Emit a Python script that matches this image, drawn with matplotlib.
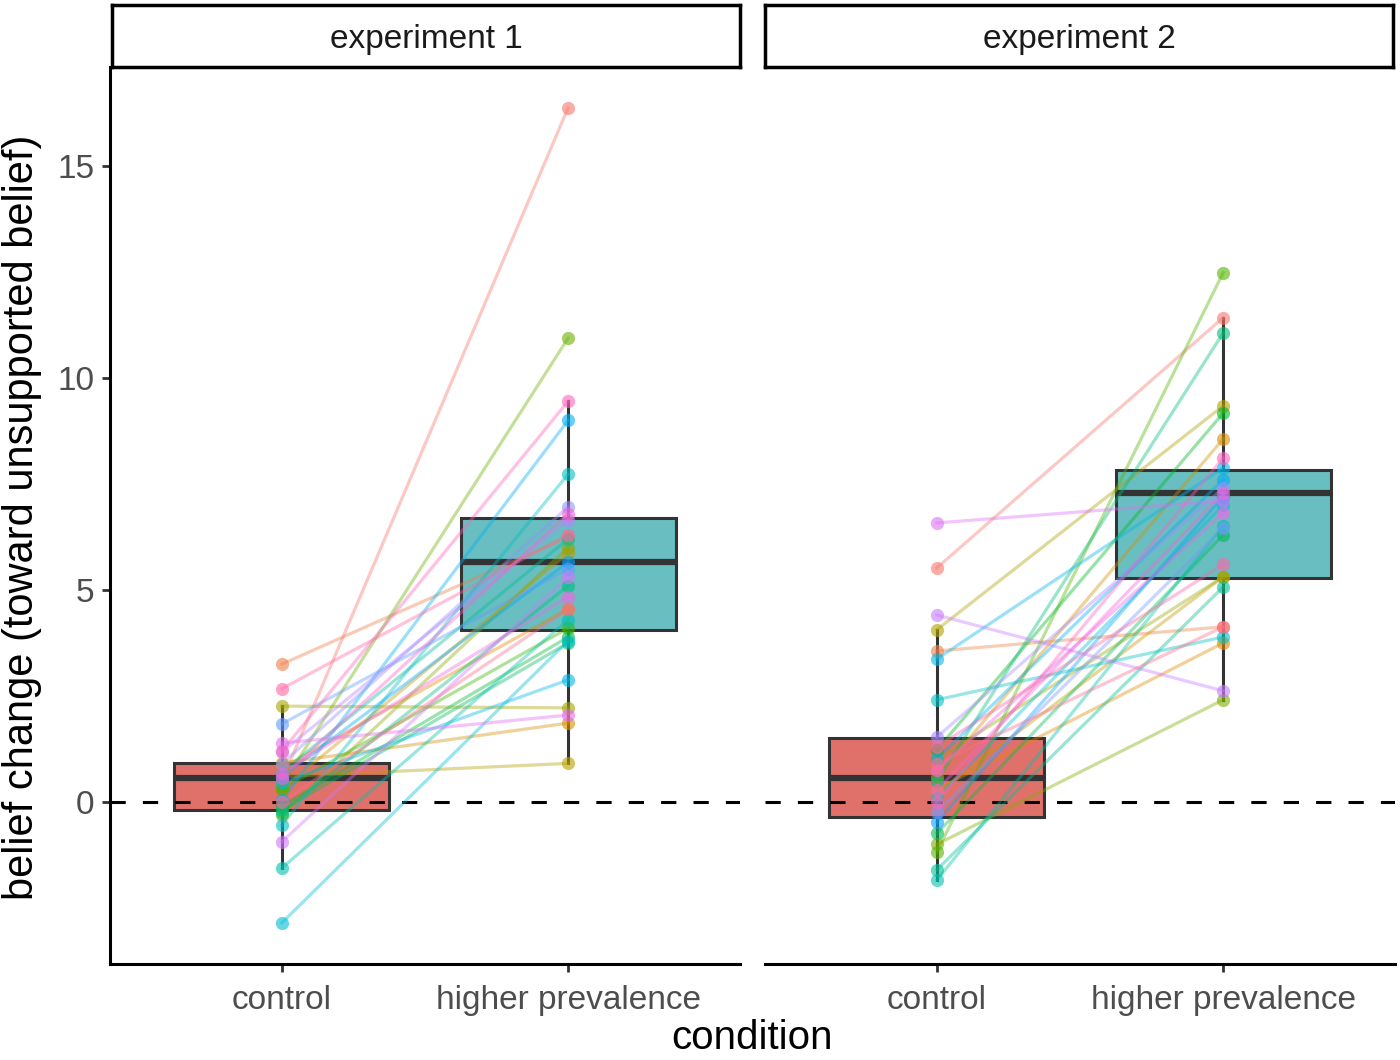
import numpy as np
import matplotlib
matplotlib.use("Agg")
import matplotlib.pyplot as plt

plt.rcParams['font.family'] = ['Liberation Sans', 'DejaVu Sans']

conditions = ["control", "higher prevalence"]
panels = ["experiment 1", "experiment 2"]

# experiment 1: one value per participant in each condition (paired)
exp1_control = [0.5, 3.25, 0.8, 0.92, 0.3, 0.6, 2.26, -0.3, 0.4, 0.3, -0.1, -0.19, -0.25, 0.7, -1.56,
                -0.54, -2.85, 0.45, 0.05, 0.6, 1.84, 0.9, 1.18, -0.94, 1.39, 0.68, 0.57, 1.2, 2.67, 0.0]
exp1_higher = [16.37, 6.25, 4.55, 1.86, 5.87, 0.91, 2.22, 6.0, 10.94, 4.1, 3.89, 3.75, 5.1, 6.2, 4.3,
               7.73, 3.8, 2.88, 9.0, 5.66, 5.5, 6.96, 6.65, 5.31, 2.05, 4.84, 6.8, 9.45, 6.3, 4.55]

# experiment 2
exp2_control = [5.52, 3.56, 0.3, 0.6, 0.2, 4.06, 1.0, -1.0, -1.18, 1.23, -0.74, 0.5, -1.6, -1.84,
                2.41, 0.1, 3.37, 1.01, -0.47, -0.24, 1.53, 4.41, 6.58, 0.75, 0.28, 0.0, 1.3, 0.9]
exp2_higher = [11.42, 4.13, 3.75, 8.56, 5.31, 9.34, 5.31, 2.41, 12.48, 9.17, 6.3, 11.06, 5.07, 6.5,
               3.89, 7.0, 7.88, 7.6, 7.2, 6.46, 7.4, 2.62, 7.1, 6.82, 7.29, 8.11, 5.6, 4.13]

# box statistics: [control, higher prevalence]
exp1_q1 = [-0.19, 4.06]
exp1_med = [0.57, 5.66]
exp1_q3 = [0.92, 6.70]
exp1_whislo = [-1.56, 0.91]
exp1_whishi = [2.26, 9.45]

exp2_q1 = [-0.35, 5.28]
exp2_med = [0.57, 7.29]
exp2_q3 = [1.51, 7.83]
exp2_whislo = [-1.84, 2.41]
exp2_whishi = [4.06, 11.42]

box_colors = ["#E0716A", "#68BEC0"]


def hue_pal(n, c=100, l=65):
    # ggplot2 style hue palette (HCL -> sRGB)
    hues = np.linspace(15, 375, n + 1)[:-1]
    Xn, Yn, Zn = 95.047, 100.0, 108.883
    un = 4 * Xn / (Xn + 15 * Yn + 3 * Zn)
    vn = 9 * Yn / (Xn + 15 * Yn + 3 * Zn)
    out = []
    for h in hues:
        u = c * np.cos(np.radians(h))
        v = c * np.sin(np.radians(h))
        Y = Yn * ((l + 16) / 116) ** 3
        up = u / (13 * l) + un
        vp = v / (13 * l) + vn
        X = Y * 9 * up / (4 * vp)
        Z = Y * (12 - 3 * up - 20 * vp) / (4 * vp)
        xyz = np.array([X, Y, Z]) / 100
        m = np.array([[3.2406, -1.5372, -0.4986],
                      [-0.9689, 1.8758, 0.0415],
                      [0.0557, -0.2040, 1.0570]])
        rgb = m @ xyz
        rgb = np.where(rgb > 0.0031308, 1.055 * np.clip(rgb, 0, None) ** (1 / 2.4) - 0.055, 12.92 * rgb)
        out.append(tuple(np.clip(rgb, 0, 1)))
    return out


W, H = 1400, 1060
fig = plt.figure(figsize=(W / 100, H / 100), dpi=100)

panel_left = [110, 765]
data = [(exp1_control, exp1_higher, exp1_q1, exp1_med, exp1_q3, exp1_whislo, exp1_whishi),
        (exp2_control, exp2_higher, exp2_q1, exp2_med, exp2_q3, exp2_whislo, exp2_whishi)]

grey = "#4D4D4D"
for k in range(2):
    ctrl, high, q1, med, q3, wlo, whi = data[k]
    ax = fig.add_axes([panel_left[k] / W, (H - 964) / H, 630 / W, 897 / H])

    stats = []
    for j in range(2):
        stats.append(dict(q1=q1[j], med=med[j], q3=q3[j], whislo=wlo[j], whishi=whi[j], fliers=[]))
    bp = ax.bxp(stats, positions=[1, 2], widths=0.75, patch_artist=True, showcaps=False,
                showfliers=False,
                boxprops=dict(linewidth=2.2, edgecolor="#333333"),
                whiskerprops=dict(linewidth=2.2, color="#333333"),
                medianprops=dict(linewidth=4.5, color="#333333"))
    for patch, col in zip(bp['boxes'], box_colors):
        patch.set_facecolor(col)
    for item in bp['boxes'] + bp['whiskers'] + bp['medians']:
        item.set_zorder(1)

    ax.axhline(0, color="black", linewidth=2.2, linestyle=(0, (5, 5.6)), zorder=1.5)

    cols = hue_pal(len(ctrl))
    for i in range(len(ctrl)):
        ax.plot([1, 2], [ctrl[i], high[i]], color=cols[i], alpha=0.4, linewidth=2.3, zorder=2)
        ax.plot([1, 2], [ctrl[i], high[i]], 'o', color=cols[i], alpha=0.6, markersize=9.5,
                markeredgewidth=0, zorder=3)

    ax.set_xlim(0.4, 2.6)
    ax.set_ylim(-3.82, 17.33)
    ax.set_xticks([1, 2])
    ax.set_xticklabels(conditions, fontsize=24, color=grey)
    ax.set_yticks([0, 5, 10, 15])
    ax.set_yticklabels(["0", "5", "10", "15"], fontsize=24, color=grey)
    ax.tick_params(axis='both', length=6, width=2, color="#333333", pad=5)
    ax.tick_params(axis='x', pad=9)
    for s in ["top", "right"]:
        ax.spines[s].set_visible(False)
    ax.spines["bottom"].set_linewidth(2.2)
    ax.spines["left"].set_linewidth(2.2)
    if k == 1:
        ax.spines["left"].set_visible(False)
        ax.tick_params(axis='y', left=False, labelleft=False)

    # facet strip
    sx = panel_left[k] + (2 if k == 0 else 0)
    sax = fig.add_axes([sx / W, (H - 67) / H, (740 - 112) / W, 62 / H])
    sax.set_xticks([])
    sax.set_yticks([])
    for s in sax.spines.values():
        s.set_linewidth(2.5)
        s.set_color("black")
    sax.text(0.5, 0.45, panels[k], ha="center", va="center", fontsize=24, color="#1A1A1A",
             transform=sax.transAxes)

fig.text(752 / W, 1 - 1049 / H, "condition", ha="center", va="baseline", fontsize=29)
fig.text(22 / W, 1 - 517 / H, "belief change (toward unsupported belief)", ha="center", va="center",
         fontsize=30, rotation=90)

fig.savefig("out.png", dpi=100)
